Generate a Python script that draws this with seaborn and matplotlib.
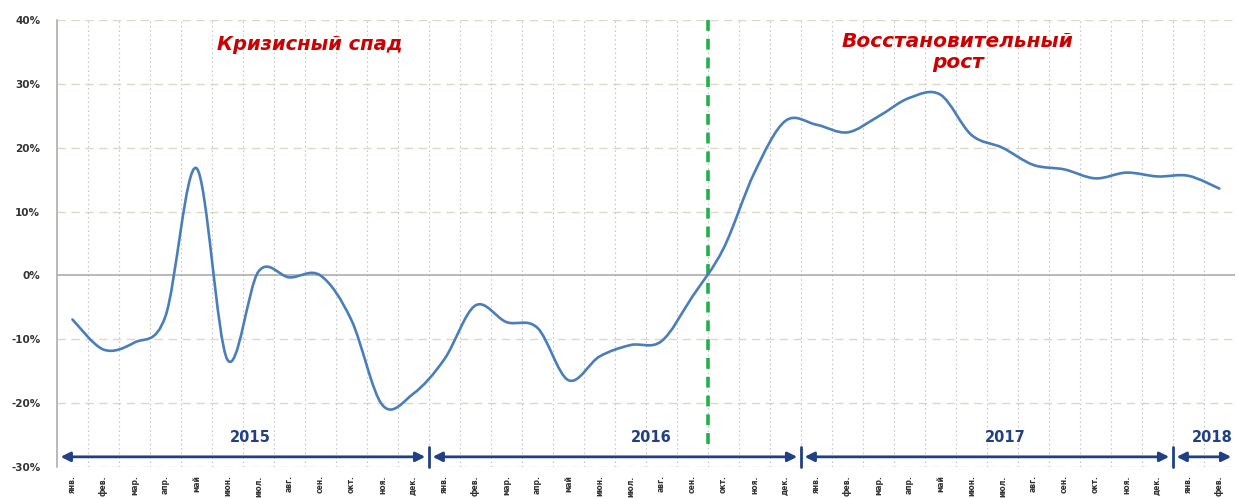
import numpy as np
import matplotlib
matplotlib.use('Agg')
import matplotlib.pyplot as plt
from matplotlib.path import Path
from matplotlib.patches import PathPatch
import seaborn as sns

# Данные (прирост, %), январь 2015 - февраль 2018
months = ['янв.', 'фев.', 'мар.', 'апр.', 'май', 'июн.',
          'июл.', 'авг.', 'сен.', 'окт.', 'ноя.', 'дек.']
month_labels = months * 3 + months[:2]
values = [-6.9, -11.6, -10.5, -6.4, 16.8, -13.2, 0.6, -0.3, 0.0, -7.0, -20.3, -18.5,
          -13.1, -4.7, -7.3, -8.2, -16.4, -12.7, -10.9, -10.3, -3.3, 4.2, 16.1, 24.2,
          23.6, 22.4, 24.9, 27.8, 28.3, 22.0, 20.0, 17.3, 16.6, 15.2, 16.1, 15.5,
          15.6, 13.6]
years = ['2015', '2016', '2017', '2018']
year_bounds = [-0.5, 11.5, 23.5, 35.5, 37.5]
yticks = [-30, -20, -10, 0, 10, 20, 30, 40]

sns.set_style('white')
plt.rcParams['font.family'] = ['DejaVu Sans']

fig = plt.figure(figsize=(12.38, 4.99), dpi=100)
ax = fig.add_axes([0.046, 0.064, 0.9515, 0.896])

x = np.arange(len(values))
y = np.array(values)

# сглаженная линия (как в Excel): кривые Безье через точки данных
pts = np.column_stack([x, y])
verts = [pts[0]]
codes = [Path.MOVETO]
for i in range(len(pts) - 1):
    p0 = pts[i - 1] if i > 0 else pts[i]
    p1 = pts[i]
    p2 = pts[i + 1]
    p3 = pts[i + 2] if i + 2 < len(pts) else pts[i + 1]
    c1 = p1 + (p2 - p0) / 6
    c2 = p2 - (p3 - p1) / 6
    verts += [c1, c2, p2]
    codes += [Path.CURVE4] * 3
ax.add_patch(PathPatch(Path(verts, codes), fill=False, edgecolor='#4a7ebb',
                       lw=1.9, capstyle='round', joinstyle='round', zorder=4))

ax.set_xlim(-0.5, len(values) - 0.5)
ax.set_ylim(-30, 40)

# сетка
for yt in yticks:
    if yt == 0:
        ax.axhline(0, color='#a6a6a6', lw=1.1, zorder=2)
    else:
        ax.axhline(yt, color='#ddd8c4', lw=1.0, ls=(0, (6, 4)), zorder=1)
for xb in np.arange(0.5, len(values), 1.0):
    ax.axvline(xb, color='#c8c8c8', lw=0.8, ls=(0, (1.5, 2.5)), zorder=1)

for s in ['top', 'right', 'bottom']:
    ax.spines[s].set_visible(False)
ax.spines['left'].set_color('#a6a6a6')
ax.spines['left'].set_linewidth(1.1)

ax.set_yticks(yticks)
ax.set_yticklabels([f'{v}%' for v in yticks], fontsize=7.5, fontweight='bold', color='#333333')
ax.set_xticks(x)
ax.set_xticklabels(month_labels, rotation=90, fontsize=5.5, fontweight='bold', color='#333333')
ax.tick_params(axis='x', length=0, pad=6)
ax.tick_params(axis='y', length=0, pad=12)

# граница кризиса
ax.plot([20.5, 20.5], [40, -26.5], color='#1fb24a', lw=2.6, ls=(0, (3, 2.2)), zorder=3)

# годы
navy = '#203f84'
ya = -28.4
for k, yr in enumerate(years):
    x0, x1 = year_bounds[k], year_bounds[k + 1]
    ax.annotate('', xy=(x1 - 0.12, ya), xytext=(x0 + 0.12, ya),
                arrowprops=dict(arrowstyle='<|-|>', color=navy, lw=2.0,
                                mutation_scale=14, shrinkA=0, shrinkB=0), zorder=5)
for xb in year_bounds[1:4]:
    ax.plot([xb, xb], [-26.9, -30.0], color=navy, lw=2.0, zorder=5, clip_on=False)

year_pos = [5.73, 18.66, 30.08, 36.76]
for xp, yr in zip(year_pos, years):
    ax.text(xp, -25.4, yr, ha='center', va='center', fontsize=10.5,
            fontweight='bold', color=navy, zorder=6)

ax.text(7.66, 36.2, 'Кризисный спад', ha='center', va='center', fontsize=14,
        fontweight='bold', style='italic', color='#cc0000', zorder=6)
ax.text(28.56, 35.0, 'Восстановительный\nрост', ha='center', va='center', fontsize=14.5,
        fontweight='bold', style='italic', color='#cc0000', linespacing=1.15, zorder=6)

fig.savefig('out.png', dpi=100)
